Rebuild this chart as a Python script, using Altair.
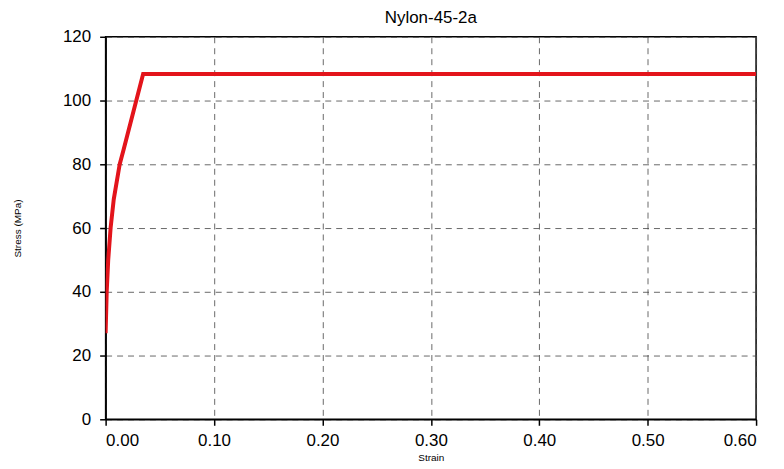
import altair as alt
import pandas as pd

strain = [0.0, 0.001, 0.0024, 0.0046, 0.0075, 0.013, 0.0165, 0.0346, 0.60]
stress = [27.0, 40.0, 50.0, 60.0, 69.0, 80.0, 84.5, 108.3, 108.3]

df = pd.DataFrame({"Strain": strain, "Stress": stress, "order": list(range(len(strain)))})

font = "Liberation Sans"

chart = alt.Chart(df).mark_line(color="#e3141b", strokeWidth=4, clip=True).encode(
    x=alt.X("Strain:Q", scale=alt.Scale(domain=[0, 0.6], nice=False, zero=False),
            axis=alt.Axis(values=[0, 0.1, 0.2, 0.3, 0.4, 0.5, 0.6], format=".2f",
                          title="Strain", titleFontSize=10, titleFontWeight="normal",
                          titlePadding=4, labelFontSize=17, labelPadding=7)),
    y=alt.Y("Stress:Q", scale=alt.Scale(domain=[0, 120], nice=False),
            axis=alt.Axis(values=[0, 20, 40, 60, 80, 100, 120], title="Stress (MPa)",
                          titleFontSize=10, titleFontWeight="normal", titlePadding=40,
                          labelFontSize=17, labelPadding=9)),
    order="order:Q",
).properties(
    width=653, height=384,
    title=alt.TitleParams("Nylon-45-2a", fontSize=17, fontWeight="normal", font=font,
                          color="#000", offset=1),
    autosize=alt.AutoSizeParams(type="none"),
    padding={"left": 98, "top": 28, "right": 20, "bottom": 48},
).configure_axis(
    labelFont=font, titleFont=font, labelColor="#000", titleColor="#000",
    domainColor="#000", domainWidth=1.5, tickColor="#000", tickSize=6, tickWidth=1.5,
    gridColor="#444", gridDash=[6, 5], gridWidth=1, gridOpacity=0.8,
).configure_view(stroke="#000", strokeWidth=1.5)

chart.save("out.html", embed_options={"renderer": "svg", "actions": False})
